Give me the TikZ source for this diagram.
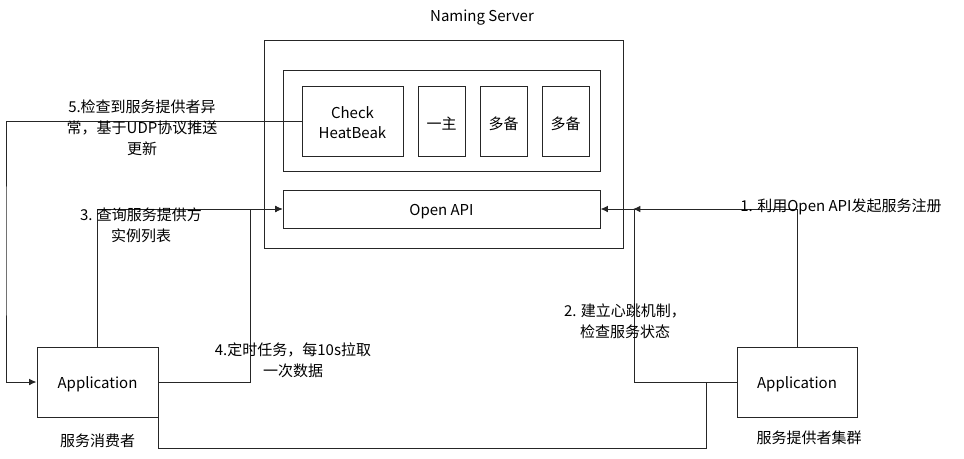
\documentclass[tikz,border=0pt]{standalone}
\usepackage{fontspec}
\setmainfont{Noto Sans CJK SC}
\usepackage{tikz}
\usetikzlibrary{arrows.meta,positioning,calc}
\tikzset{
block/.style = {draw, fill=white, rectangle, inner sep=0pt, align=center, text height=12.5pt},
cblock/.style = {block, text height=13.5pt},
tmp/.style  = {coordinate},
lbl/.style = {align=center, inner sep=0pt},
}
\begin{document}
\begin{tikzpicture}[x=0.75pt, y=-0.75pt, >={Latex[length=5.5pt,width=5pt]}, line width=0.75pt, draw=black!85,
    font=\fontsize{11.25pt}{15.6pt}\selectfont]
    \useasboundingbox (0,0) rectangle (964,458);
    % naming server
    \node [draw, minimum width=269.25pt, minimum height=156pt] (srv) at (443.5,144) {};
    \node [lbl] (srvlabel) at (482,18) {Naming Server};
    \node [draw, minimum width=237.75pt, minimum height=75.75pt] (grp) at (441.5,120.5) {};
    \node [block, text height=27pt, minimum width=75.75pt, minimum height=52.5pt] (chk) at (352.5,121) {Check\\HeatBeak};
    \node [cblock, minimum width=35.25pt, minimum height=52.5pt] (main) at (441.5,121) {一主};
    \node [cblock, minimum width=35.25pt, minimum height=52.5pt] (bak1) at (503.5,121) {多备};
    \node [cblock, minimum width=35.25pt, minimum height=52.5pt] (bak2) at (565.5,121) {多备};
    \node [block, minimum width=237.75pt, minimum height=28.5pt] (api) at (441.5,209) {Open API};

    % consumer and provider
    \node [block, minimum width=90.75pt, minimum height=52.5pt] (cons) at (97.5,382) {Application};
    \node [lbl, below=12pt of cons] (conslabel) {服务消费者};
    \node [block, minimum width=90pt, minimum height=52.5pt] (prov) at (797,382) {Application};
    \node [lbl, below=10pt of prov, xshift=9pt] (provlabel) {服务提供者集群};

    \node [tmp] (lft) at (6,250) {};
    \node [tmp] (tick) at (250,209) {};
    \node [tmp] (hb) at (633,209) {};
    \node [tmp] (hbin) at (634,209) {};
    \node [tmp] (lowr) at (706,448) {};
    \node [tmp] (join) at (706,382) {};

    \draw [->] (prov.north) |- (api.east);
    \draw [->] (prov.west) -| (hbin) -- (hb);
    \draw (cons.south east) |- (lowr) -- (join);
    \draw [->] (cons.north) |- (api.west);
    \draw [->] (cons.east) -| (tick) -- (api.west);
    \draw [->] (chk.west) -| (lft) |- (cons.west);

    % labels
    \node [lbl] (l1) at (841,207) {1. 利用Open API发起服务注册};
    \node [lbl] (l2) at (625,321) {2. 建立心跳机制，\\检查服务状态};
    \node [lbl] (l3) at (141,225) {3. 查询服务提供方\\实例列表};
    \node [lbl] (l4) at (293,360) {4.定时任务，每10s拉取\\一次数据};
    \node [lbl] (l5) at (142,128) {5.检查到服务提供者异\\常，基于UDP协议推送\\更新};
    \end{tikzpicture}
\end{document}
